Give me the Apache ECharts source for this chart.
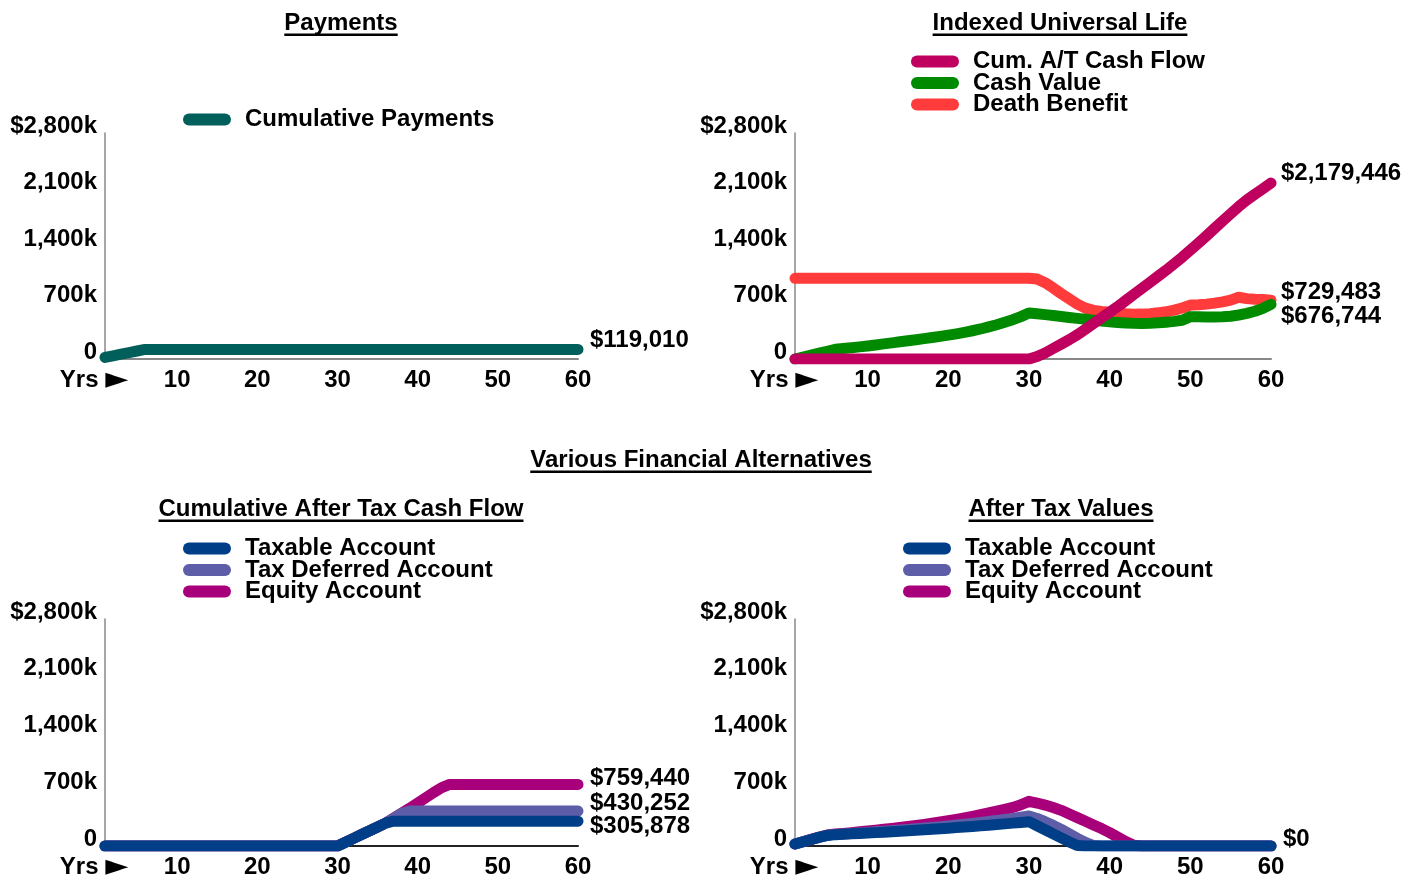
<!DOCTYPE html>
<html>
<head>
<meta charset="utf-8">
<title>Financial Alternatives</title>
<script src="https://cdn.jsdelivr.net/npm/echarts@6.0.0/dist/echarts.min.js"></script>
<style>
  html, body { margin: 0; padding: 0; background: #fff; }
  #chart { width: 1417px; height: 875px; }
</style>
</head>
<body>
<div id="chart"></div>
<script>
// years on the x axis
var years = [1,2,3,4,5,6,7,8,9,10,11,12,13,14,15,16,17,18,19,20,
  21,22,23,24,25,26,27,28,29,30,31,32,33,34,35,36,37,38,39,40,
  41,42,43,44,45,46,47,48,49,50,51,52,53,54,55,56,57,58,59,60];

var yTickLabels = ['0', '700k', '1,400k', '2,100k', '$2,800k'];

// Payments
var cumPayments = [19835,39670,59505,79340,99175,119010,119010,119010,119010,119010,
  119010,119010,119010,119010,119010,119010,119010,119010,119010,119010,
  119010,119010,119010,119010,119010,119010,119010,119010,119010,119010,
  119010,119010,119010,119010,119010,119010,119010,119010,119010,119010,
  119010,119010,119010,119010,119010,119010,119010,119010,119010,119010,
  119010,119010,119010,119010,119010,119010,119010,119010,119010,119010];

// Indexed Universal Life
var cumATCashFlow = [0,0,0,0,0,0,0,0,0,0, 0,0,0,0,0,0,0,0,0,0, 0,0,0,0,0,0,0,0,0,0,
  30000,75000,130000,185000,240000,300000,370000,440000,510000,580000,
  650000,725000,800000,875000,950000,1025000,1100000,1180000,1262000,1348000,
  1436000,1526000,1618000,1710000,1800000,1888000,1970000,2042000,2110000,2179446];
var cashValue = [0,24000,48000,72000,96000,120000,130000,140000,150000,162000,
  174000,187000,200000,213000,226000,239000,252000,266000,281000,296000,
  312000,330000,350000,372000,398000,425000,455000,487000,525000,570000,
  560000,550000,538000,527000,515000,503000,492000,480000,470000,460000,
  452000,446000,442000,441000,443000,448000,456000,466000,480000,525000,
  522000,520000,520000,523000,530000,545000,565000,592000,628000,676744];
var deathBenefit = [1000000,1000000,1000000,1000000,1000000,1000000,1000000,1000000,1000000,1000000,
  1000000,1000000,1000000,1000000,1000000,1000000,1000000,1000000,1000000,1000000,
  1000000,1000000,1000000,1000000,1000000,1000000,1000000,1000000,1000000,1000000,
  990000,945000,880000,810000,745000,680000,630000,602000,588000,578000,
  568000,560000,555000,556000,562000,572000,585000,605000,632000,668000,
  672000,680000,692000,708000,730000,765000,748000,740000,736000,729483];

// Cumulative After Tax Cash Flow
var taxableCF = [0,0,0,0,0,0,0,0,0,0, 0,0,0,0,0,0,0,0,0,0, 0,0,0,0,0,0,0,0,0,0,
  47000,94000,141000,188000,235000,282000,305878,305878,305878,305878,
  305878,305878,305878,305878,305878,305878,305878,305878,305878,305878,
  305878,305878,305878,305878,305878,305878,305878,305878,305878,305878];
var deferredCF = [0,0,0,0,0,0,0,0,0,0, 0,0,0,0,0,0,0,0,0,0, 0,0,0,0,0,0,0,0,0,0,
  47000,94000,141000,188000,235000,282000,340000,400000,430252,430252,
  430252,430252,430252,430252,430252,430252,430252,430252,430252,430252,
  430252,430252,430252,430252,430252,430252,430252,430252,430252,430252];
var equityCF = [0,0,0,0,0,0,0,0,0,0, 0,0,0,0,0,0,0,0,0,0, 0,0,0,0,0,0,0,0,0,0,
  47000,94000,141000,188000,235000,282000,345000,405000,465000,530000,
  595000,660000,720000,759440,759440,759440,759440,759440,759440,759440,
  759440,759440,759440,759440,759440,759440,759440,759440,759440,759440];

// After Tax Values
var taxableAT = [25000,52000,80000,107000,130000,140000,145000,150000,155000,160000,
  165000,171000,177000,183000,189000,195000,201000,207000,213000,220000,
  227000,234000,241000,249000,257000,265000,273000,282000,291000,300000,
  250000,200000,150000,100000,50000,5000,0,0,0,0,
  0,0,0,0,0,0,0,0,0,0, 0,0,0,0,0,0,0,0,0,0];
var deferredAT = [25000,52000,80000,108000,132000,143000,149000,155000,161000,168000,
  175000,182000,189000,197000,205000,213000,221000,230000,239000,248000,
  258000,268000,279000,290000,302000,314000,327000,340000,354000,370000,
  340000,300000,255000,205000,150000,95000,45000,5000,0,0,
  0,0,0,0,0,0,0,0,0,0, 0,0,0,0,0,0,0,0,0,0];
var equityAT = [25000,53000,82000,110000,135000,147000,156000,165000,175000,185000,
  195000,206000,217000,229000,241000,254000,267000,281000,296000,312000,
  329000,347000,366000,386000,407000,429000,452000,476000,508000,551000,
  530000,505000,475000,440000,395000,350000,305000,260000,215000,165000,
  110000,55000,10000,0,0,0,0,0,0,0, 0,0,0,0,0,0,0,0,0,0];

var FONT = '"Liberation Sans", Arial, Helvetica, sans-serif';
var C = {
  payments: '#005f5a',
  cumAT: '#bf005f',
  cash: '#008a00',
  death: '#ff3b3b',
  taxable: '#003f87',
  deferred: '#5d5da8',
  equity: '#a8007a'
};

var grids = [
  { left: 105, top: 133, width: 473, height: 226, outerBoundsMode: 'none' },
  { left: 795, top: 133, width: 476, height: 226, outerBoundsMode: 'none' },
  { left: 105, top: 619, width: 473, height: 227, outerBoundsMode: 'none' },
  { left: 795, top: 619, width: 476, height: 227, outerBoundsMode: 'none' }
];

function xAxisFor(i, lineColor) {
  return {
    type: 'category', gridIndex: i, data: years, boundaryGap: false,
    axisLine: { show: true, lineStyle: { color: lineColor, width: 2 } },
    axisTick: { show: false },
    axisLabel: {
      interval: function (idx, val) { return idx === 0 || Number(val) % 10 === 0; },
      formatter: function (val) { return Number(val) === 1 ? '{y|Yrs }{g|\u25BA}' : val; },
      margin: 9, color: '#000', fontSize: 24, fontWeight: 'bold', fontFamily: FONT,
      rich: {
        y: { fontSize: 24, fontWeight: 'bold', fontFamily: FONT, color: '#000', lineHeight: 24 },
        g: { fontSize: 30, fontFamily: '"DejaVu Sans"', color: '#000', lineHeight: 24, padding: [0, 22, 0, 0] }
      }
    },
    splitLine: { show: false }
  };
}

function yAxisFor(i) {
  return {
    type: 'value', gridIndex: i, min: 0, max: 2800000, interval: 700000,
    axisLine: { show: true, lineStyle: { color: '#888', width: 1.5 } },
    axisTick: { show: false },
    splitLine: { show: false },
    axisLabel: {
      margin: 8, color: '#000', fontSize: 24, fontWeight: 'bold', fontFamily: FONT,
      verticalAlign: 'bottom', lineHeight: 14,
      formatter: function (v) { return yTickLabels[Math.round(v / 700000)]; }
    }
  };
}

function lineSeries(name, data, color, axis, label, dx, dy) {
  var s = {
    name: name, type: 'line', data: data, xAxisIndex: axis, yAxisIndex: axis,
    symbol: 'none', smooth: false, color: color,
    lineStyle: { width: 11, color: color, cap: 'round', join: 'round' },
    emphasis: { disabled: true }
  };
  if (label) {
    s.endLabel = {
      show: true, formatter: label, distance: dx, offset: [0, dy],
      color: '#000', fontSize: 24, fontWeight: 'bold', fontFamily: FONT
    };
  }
  return s;
}

var pill = 'path://M6,0 L42,0 A6,6 0 0 1 42,12 L6,12 A6,6 0 0 1 6,0 Z';
function legendFor(names, left, top) {
  return {
    data: names, orient: 'vertical', left: left, top: top, padding: 0,
    icon: pill, itemWidth: 48, itemHeight: 12, itemGap: -2.5,
    selectedMode: false,
    textStyle: { color: '#000', fontSize: 24, fontWeight: 'bold', fontFamily: FONT,
      lineHeight: 21, padding: [0, 0, 0, 9] }
  };
}

// titles with underline
var measure = document.createElement('canvas').getContext('2d');
measure.font = 'bold 24px ' + FONT;
var titles = [
  { text: 'Payments', x: 341, y: 23 },
  { text: 'Indexed Universal Life', x: 1060, y: 23 },
  { text: 'Various Financial Alternatives', x: 701, y: 460 },
  { text: 'Cumulative After Tax Cash Flow', x: 341, y: 509 },
  { text: 'After Tax Values', x: 1061, y: 509 }
];
var graphics = [];
titles.forEach(function (t) {
  var w = measure.measureText(t.text).width;
  graphics.push({
    type: 'text', silent: true,
    style: { text: t.text, x: t.x, y: t.y, align: 'center', verticalAlign: 'middle',
      fontSize: 24, fontWeight: 'bold', fontFamily: FONT, fill: '#000' }
  });
  graphics.push({
    type: 'rect', silent: true,
    shape: { x: t.x - w / 2, y: t.y + 10.5, width: w, height: 2.5 },
    style: { fill: '#000' }
  });
});

var chart = echarts.init(document.getElementById('chart'), null, { renderer: 'canvas' });
chart.setOption({
  animation: false,
  backgroundColor: '#fff',
  grid: grids,
  xAxis: [xAxisFor(0, '#888'), xAxisFor(1, '#888'), xAxisFor(2, '#222'), xAxisFor(3, '#222')],
  yAxis: [yAxisFor(0), yAxisFor(1), yAxisFor(2), yAxisFor(3)],
  legend: [
    legendFor(['Cumulative Payments'], 183, 107.5),
    legendFor(['Cum. A/T Cash Flow', 'Cash Value', 'Death Benefit'], 911, 49.5),
    legendFor(['Taxable Account', 'Tax Deferred Account', 'Equity Account'], 183, 536.5),
    legendFor(['Taxable Account ', 'Tax Deferred Account ', 'Equity Account '], 903, 536.5)
  ],
  graphic: graphics,
  series: [
    lineSeries('Cumulative Payments', cumPayments, C.payments, 0, '$119,010', 12, -9),

    lineSeries('Death Benefit', deathBenefit, C.death, 1, '$729,483', 10, -8),
    lineSeries('Cash Value', cashValue, C.cash, 1, '$676,744', 10, 12),
    lineSeries('Cum. A/T Cash Flow', cumATCashFlow, C.cumAT, 1, '$2,179,446', 10, -10),

    lineSeries('Equity Account', equityCF, C.equity, 2, '$759,440', 12, -6),
    lineSeries('Tax Deferred Account', deferredCF, C.deferred, 2, '$430,252', 12, -8),
    lineSeries('Taxable Account', taxableCF, C.taxable, 2, '$305,878', 12, 5),

    lineSeries('Equity Account ', equityAT, C.equity, 3, null),
    lineSeries('Tax Deferred Account ', deferredAT, C.deferred, 3, null),
    lineSeries('Taxable Account ', taxableAT, C.taxable, 3, '$0', 12, -7)
  ]
});
</script>
</body>
</html>
